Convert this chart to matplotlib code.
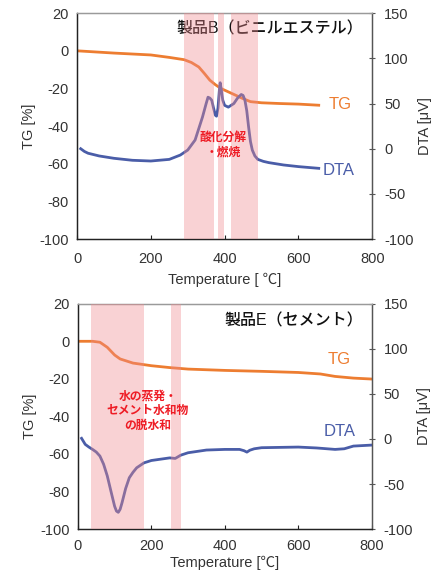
import matplotlib
matplotlib.use("Agg")
import matplotlib.pyplot as plt
import numpy as np

plt.rcParams['font.family'] = ['Liberation Sans', 'Noto Sans CJK JP', 'DejaVu Sans']
plt.rcParams['axes.unicode_minus'] = False

# ---- Panel B (vinyl ester) ----
b_tg_x = [0, 100, 200, 250, 290, 310, 330, 345, 360, 375, 390, 420, 450, 470, 500, 550, 600, 655]
b_tg_y = [0, -1.2, -2.2, -3.5, -4.7, -6.2, -8.6, -12, -15.6, -18, -20, -22.7, -25.4, -27, -27.6, -28, -28.3, -28.9]
b_dta_x = [10, 20, 30, 60, 100, 150, 200, 250, 280, 300, 320, 340, 350, 355, 360, 365, 370, 375, 378, 382, 386,
           388, 391, 395, 400, 410, 425, 435, 445, 450, 455, 460, 465, 470, 475, 482, 490, 505, 520, 560, 600, 655]
b_dta_y = [0, -3, -5, -8, -10.6, -12.8, -13.6, -11.8, -7, -1.5, 9.6, 35, 50, 57, 56, 53.7, 45, 37, 36, 45, 66,
           73, 65, 53.7, 48, 46, 50, 56, 60, 59, 53.7, 42, 24, 8, -1.5, -8, -11.8, -14, -15.4, -18, -19.8, -21.7]
b_spans = [(290, 372), (381, 399), (418, 491)]

# ---- Panel E (cement) ----
e_tg_x = [0, 40, 60, 80, 100, 115, 150, 200, 250, 300, 400, 500, 600, 660, 700, 750, 800]
e_tg_y = [0, 0, -0.5, -3.2, -7.3, -9.4, -11.6, -13, -14, -14.8, -15.5, -16, -16.6, -17.4, -18.7, -19.6, -20.1]
e_dta_x = [10, 20, 30, 40, 50, 60, 70, 80, 90, 100, 105, 110, 115, 120, 130, 140, 150, 160, 180, 200, 250, 265, 280,
           300, 350, 400, 440, 452, 460, 468, 480, 500, 600, 650, 700, 725, 750, 800]
e_dta_y = [0.7, -6, -9, -11.6, -14.5, -19, -28, -41, -58, -74.7, -80, -81.4, -78, -71, -55, -43, -37, -32, -26.5, -23.9, -21, -21.6, -18,
           -15.3, -12.3, -11.6, -11.6, -13, -14.6, -12.5, -10.9, -9.7, -9, -10, -11.6, -10.9, -7.9, -6.8]
e_spans = [(35, 180), (253, 280)]

TG_C = '#ED7D31'
DTA_C = '#4A5DA8'
SPAN_C = '#F08A8F'
LBL = '#333333'

fig = plt.figure(figsize=(4.4, 5.72), dpi=100)

def panel(rect, tgx, tgy, dx, dy, spans, title, title_y, note, note_xy, tg_lab, dta_lab, xlabel, xpad, tpad):
    ax = fig.add_axes(rect)
    ax2 = ax.twinx()
    ax.plot(tgx, tgy, color=TG_C, lw=2)
    ax2.plot(dx, dy, color=DTA_C, lw=2, zorder=2)
    for a, b in spans:
        ax2.axvspan(a, b, color=SPAN_C, alpha=0.38, lw=0, zorder=3)
    ax.set_xlim(0, 800)
    ax.set_ylim(-100, 20)
    ax2.set_ylim(-100, 150)
    ax.set_xticks([0, 200, 400, 600, 800])
    ax.set_yticks(np.arange(-100, 21, 20))
    ax2.set_yticks(np.arange(-100, 151, 50))
    for a in (ax, ax2):
        a.spines['left'].set_color('#222222')
        a.spines['bottom'].set_color('#222222')
        a.spines['right'].set_color('#555555')
        a.spines['top'].set_color('#9a9a9a')
        for s in a.spines.values():
            s.set_linewidth(0.9)
    ax.tick_params(axis='y', length=0, labelsize=10.5, labelcolor=LBL, pad=6)
    ax.tick_params(axis='x', direction='in', length=3, labelsize=10.5, color='#222222', labelcolor=LBL, pad=tpad)
    ax2.tick_params(axis='y', direction='inout', length=5, labelsize=10.5, color='#555555', labelcolor=LBL, pad=6)
    ax.set_ylabel('TG [%]', fontsize=10.5, color=LBL, labelpad=2)
    ax2.set_ylabel('DTA [μV]', fontsize=10.5, color=LBL, labelpad=3)
    ax.set_xlabel(xlabel, fontsize=10.5, color=LBL, labelpad=xpad)
    ax.text(776, title_y, title, ha='right', va='center', fontsize=11.5,
            fontweight='medium', color='#111111')
    ax.text(tg_lab[0], tg_lab[1], 'TG', color=TG_C, fontsize=12, ha='center', va='center')
    ax.text(dta_lab[0], dta_lab[1], 'DTA', color=DTA_C, fontsize=12, ha='center', va='center')
    ax2.text(note_xy[0], note_xy[1], note, color='#EE1C25', fontsize=8.5, fontweight='bold',
             ha='center', va='center', linespacing=1.3, zorder=5, transform=ax.transData)
    return ax, ax2

panel([0.175, 0.582, 0.671, 0.395], b_tg_x, b_tg_y, b_dta_x, b_dta_y, b_spans,
      '製品B（ビニルエステル）', 11.5, '酸化分解\n・燃焼', (396, -50),
      (712, -28.5), (710, -63.5), 'Temperature [ ℃]', 5, 9)
panel([0.177, 0.075, 0.668, 0.394], e_tg_x, e_tg_y, e_dta_x, e_dta_y, e_spans,
      '製品E（セメント）', 11, '水の蒸発・\nセメント水和物\nの脱水和', (190, -37),
      (710, -9.5), (712, -48), 'Temperature [℃]', 2, 7)

fig.savefig('out.png', dpi=100)
